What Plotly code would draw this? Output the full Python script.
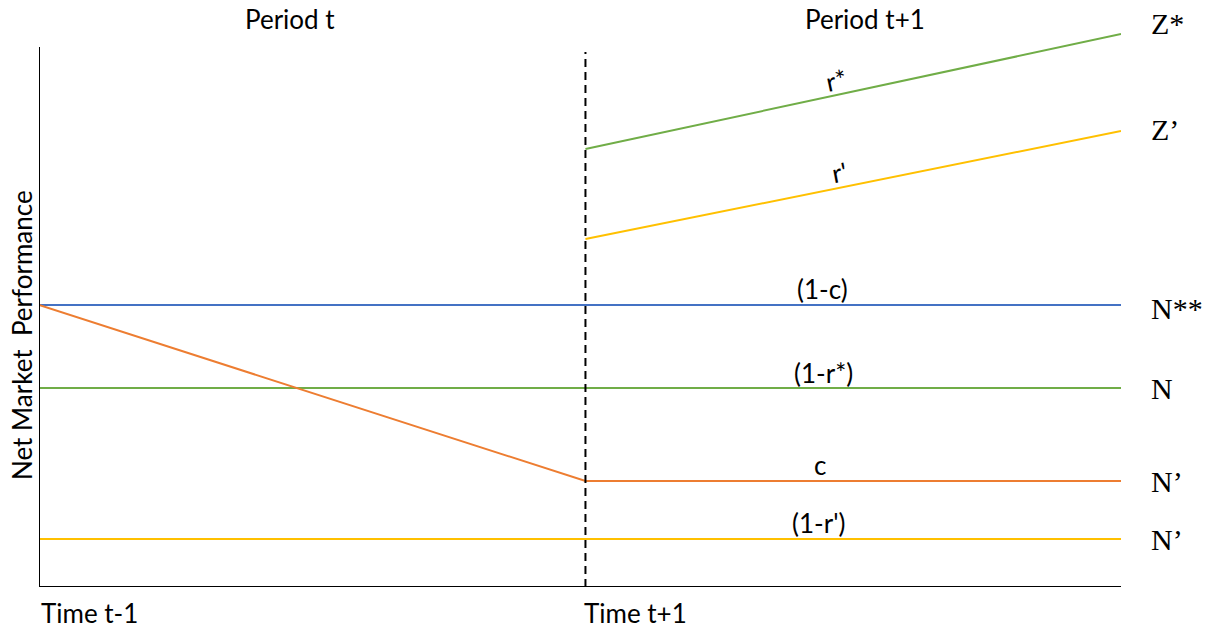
import plotly.graph_objects as go

# ---- data ----
x_start, x_mid, x_end = 0.0, 1.0, 1.98
n_star_star = 28.2      # (1-c) blue
n_level = 19.9          # (1-r*) green
c_level = 10.6          # c orange
r_prime_level = 4.8     # (1-r') yellow
r_star_y = [43.8, 55.3] # r* green rising
r_prime_y = [34.8, 45.6]# r' yellow rising
axis_top = 54.0

BLUE = "#4472C4"; GREEN = "#70AD47"; ORANGE = "#ED7D31"; YELLOW = "#FFC000"

fig = go.Figure()
def line(x, y, color):
    fig.add_trace(go.Scatter(x=x, y=y, mode="lines", line=dict(color=color, width=2),
                             showlegend=False, hoverinfo="skip"))

line([x_start, x_end], [n_star_star, n_star_star], BLUE)
line([x_start, x_end], [n_level, n_level], GREEN)
line([x_start, x_end], [r_prime_level, r_prime_level], YELLOW)
line([x_start, x_mid, x_end], [n_star_star, c_level, c_level], ORANGE)
line([x_mid, x_end], r_star_y, GREEN)
line([x_mid, x_end], r_prime_y, YELLOW)

# axes & divider
fig.add_shape(type="line", x0=x_start, x1=x_start, y0=0, y1=axis_top, line=dict(color="black", width=2))
fig.add_shape(type="line", x0=x_start, x1=x_end, y0=0, y1=0, line=dict(color="black", width=2))
fig.add_shape(type="line", x0=x_mid, x1=x_mid, y0=0, y1=axis_top - 0.5,
              line=dict(color="black", width=2, dash="8px,5px"))

SANS = "Lato"
SERIF = "Liberation Serif"
PLOT_W, PLOT_H = 1082.0, 570.0
def px(xp):  # pixel -> paper x
    return (xp - 39) / PLOT_W
def py(yp):  # pixel -> paper y
    return (587 - yp) / PLOT_H

def ann(x, y, text, size=26, family=SANS, xanchor="center", yanchor="middle", angle=0, ref="paper"):
    fig.add_annotation(x=x, y=y, xref=ref if ref == "paper" else "x", yref=ref if ref == "paper" else "y",
                       text=text, showarrow=False,
                       font=dict(family=family, size=size, color="black"),
                       xanchor=xanchor, yanchor=yanchor, textangle=angle)

ann(px(290), py(19), "Period t")
ann(px(865), py(19), "Period t+1")
ann(px(39), py(613), "Time t-1", xanchor="left")
ann(px(582), py(613), "Time t+1", xanchor="left")

ann(1.46, 50.7, "r*", angle=-12, ref="data")
ann(1.465, 41.5, "r'", angle=-11, ref="data")
ann(1.434, 29.8, "(1-c)", ref="data")
ann(1.436, 21.4, "(1-r*)", ref="data")
ann(1.43, 12.2, "c", ref="data")
ann(1.427, 6.4, "(1-r')", ref="data")

xr = px(1149)
for ypix, txt in [(23, "Z*"), (130, "Z’"), (308, "N**"), (388, "N"), (481, "N’"), (539, "N’")]:
    ann(xr, py(ypix), txt, size=30, family=SERIF, xanchor="left")

ann(px(22), py(335), "Net Market\u00a0 Performance", angle=-90)

fig.update_layout(
    width=1219, height=632,
    margin=dict(l=39, r=98, t=17, b=45),
    plot_bgcolor="white", paper_bgcolor="white",
    xaxis=dict(range=[0, x_end], visible=False, fixedrange=True),
    yaxis=dict(range=[0, 57], visible=False, fixedrange=True),
)
fig.write_html("out.html", config={"displayModeBar": False},
               post_script="document.body.style.margin='0';")
